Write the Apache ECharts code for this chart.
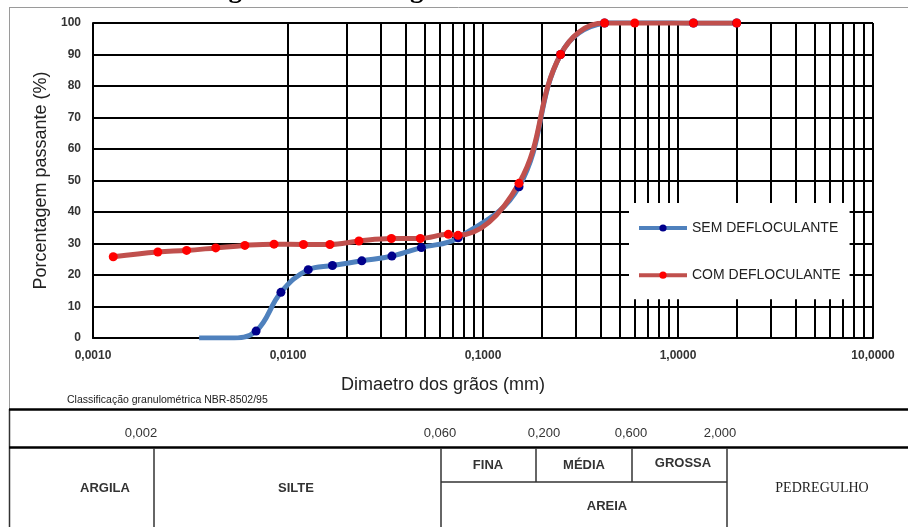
<!DOCTYPE html>
<html>
<head>
<meta charset="utf-8">
<script src="https://cdn.jsdelivr.net/npm/echarts@6/dist/echarts.min.js"></script>
<style>
  html, body { margin: 0; padding: 0; background: #fff; }
  #chart { width: 908px; height: 527px; }
</style>
</head>
<body>
<div id="chart"></div>
<script>
// diametros (mm) e porcentagem passante
const semDiam = [0.0035, 0.0050, 0.00686, 0.0092, 0.0127, 0.0169, 0.0239, 0.0341, 0.0483, 0.0746, 0.153, 0.25, 0.42, 0.60, 1.2, 2.0];
const semPass = [0, 0, 2.2, 14.5, 21.7, 23.0, 24.5, 26.0, 28.7, 31.8, 48.0, 90, 100, 100.5, 100, 100];
const semHidden = 2; // first points drawn without marker

const comDiam = [0.00127, 0.00215, 0.00302, 0.00426, 0.00601, 0.00848, 0.0120, 0.0164, 0.0231, 0.0339, 0.0477, 0.0664, 0.0745, 0.153, 0.25, 0.42, 0.60, 1.2, 2.0];
const comPass = [25.8, 27.3, 27.8, 28.6, 29.4, 29.8, 29.7, 29.7, 30.8, 31.6, 31.6, 32.9, 32.6, 49.1, 90, 100, 100, 100, 100];

const seriesNames = ['SEM DEFLOCULANTE', 'COM DEFLOCULANTE'];
const decades = [0.001, 0.01, 0.1, 1];
const tableBounds = ['0,002', '0,060', '0,200', '0,600', '2,000'];

const font = 'Liberation Sans';

// minor vertical grid lines (2..9 in each decade)
const minorLines = [];
decades.forEach((d) => {
  for (let k = 2; k <= 9; k++) minorLines.push({ xAxis: d * k });
});

const semData = semDiam.map((d, i) =>
  i < semHidden ? { value: [d, semPass[i]], symbol: 'none' } : [d, semPass[i]]
);
const comData = comDiam.map((d, i) => [d, comPass[i]]);

const line = (x1, y1, x2, y2, color, w) => ({
  type: 'line',
  silent: true,
  shape: { x1, y1, x2, y2 },
  style: { stroke: color, lineWidth: w },
});
const label = (text, x, y, size, extra) => ({
  type: 'text',
  silent: true,
  style: Object.assign({
    text, x, y, align: 'center', verticalAlign: 'middle',
    font: size + 'px "' + font + '"', fill: '#333',
  }, extra || {}),
});

const boundX = [141, 440, 544, 631, 720];
const semi = '600 13px "' + font + '"';

const graphic = [
  label('Figura 4 – Curva granulométrica do solo', 440, -10, 27, {
    font: 'bold 27px "Liberation Serif"', fill: '#000',
  }),
  line(9, 7.5, 908, 7.5, '#9a9a9a', 1),
  line(9.5, 7, 9.5, 409, '#9a9a9a', 1),
  line(9.5, 409, 9.5, 527, '#333', 1.5),
  line(9, 409.5, 908, 409.5, '#000', 2.5),
  line(9, 447.5, 908, 447.5, '#000', 2.5),
  line(154, 448, 154, 527, '#333', 1.5),
  line(441, 448, 441, 527, '#333', 1.5),
  line(536, 448, 536, 482, '#333', 1.5),
  line(632, 448, 632, 482, '#333', 1.5),
  line(727, 448, 727, 527, '#333', 1.5),
  line(441, 482, 727, 482, '#333', 1.5),
  label('Classificação granulométrica NBR-8502/95', 67, 400, 10.5, { align: 'left', fill: '#222' }),
  label('ARGILA', 105, 488, 13, { font: semi }),
  label('SILTE', 296, 488, 13, { font: semi }),
  label('FINA', 488, 465, 13, { font: semi }),
  label('MÉDIA', 584, 465, 13, { font: semi }),
  label('GROSSA', 683, 463, 13, { font: semi }),
  label('AREIA', 607, 506, 13, { font: semi }),
  label('PEDREGULHO', 822, 488, 14, { font: '14px "Liberation Serif"', fill: '#222' }),
];
tableBounds.forEach((t, i) => graphic.push(label(t, boundX[i], 433, 13)));

const chart = echarts.init(document.getElementById('chart'));
chart.setOption({
  animation: false,
  backgroundColor: '#fff',
  grid: { left: 93, right: 35, top: 23, bottom: 189 },
  legend: {
    data: seriesNames,
    orient: 'vertical',
    left: 629,
    top: 203,
    z: 6,
    padding: [18, 9, 17, 8],
    itemWidth: 48,
    itemHeight: 9,
    itemGap: 33.2,
    backgroundColor: '#fff',
    lineStyle: { width: 4 },
    textStyle: { fontSize: 14, color: '#222', fontFamily: font },
  },
  xAxis: {
    type: 'log',
    logBase: 10,
    min: 0.001,
    max: 10,
    name: 'Dimaetro dos grãos (mm)',
    nameLocation: 'middle',
    nameGap: 38,
    nameTextStyle: { fontSize: 18, color: '#222', fontFamily: font, padding: [0, 80, 0, 0] },
    axisLine: { lineStyle: { color: '#000', width: 2 } },
    axisTick: { show: false },
    axisLabel: {
      margin: 12,
      fontSize: 12,
      fontWeight: 'bold',
      color: '#333',
      fontFamily: font,
      formatter: (v) => v.toFixed(4).replace('.', ','),
    },
    splitLine: { show: true, lineStyle: { color: '#000', width: 2 } },
  },
  yAxis: {
    type: 'value',
    min: 0,
    max: 100,
    interval: 10,
    name: 'Porcentagem passante (%)',
    nameLocation: 'middle',
    nameGap: 43,
    nameTextStyle: { fontSize: 18, color: '#222', fontFamily: font },
    axisLine: { show: true, lineStyle: { color: '#000', width: 2 } },
    axisTick: { show: false },
    axisLabel: { margin: 12, fontSize: 12, fontWeight: 'bold', color: '#333', fontFamily: font },
    splitLine: { lineStyle: { color: '#000', width: 2 } },
  },
  graphic,
  series: [
    {
      name: 'grid',
      type: 'line',
      data: [],
      z: 1,
      silent: true,
      markLine: {
        z: 1,
        silent: true,
        symbol: ['none', 'none'],
        label: { show: false },
        lineStyle: { color: '#000', width: 2, type: 'solid' },
        emphasis: { disabled: true },
        data: minorLines,
      },
    },
    {
      name: seriesNames[0],
      type: 'line',
      z: 3,
      smooth: 0.4,
      data: semData,
      symbol: 'circle',
      symbolSize: 9,
      lineStyle: { color: '#4f81bd', width: 5 },
      itemStyle: { color: '#00008b' },
    },
    {
      name: seriesNames[1],
      type: 'line',
      z: 3,
      smooth: 0.4,
      data: comData,
      symbol: 'circle',
      symbolSize: 9,
      lineStyle: { color: '#c0504d', width: 5 },
      itemStyle: { color: '#ff0000' },
    },
  ],
});
</script>
</body>
</html>
